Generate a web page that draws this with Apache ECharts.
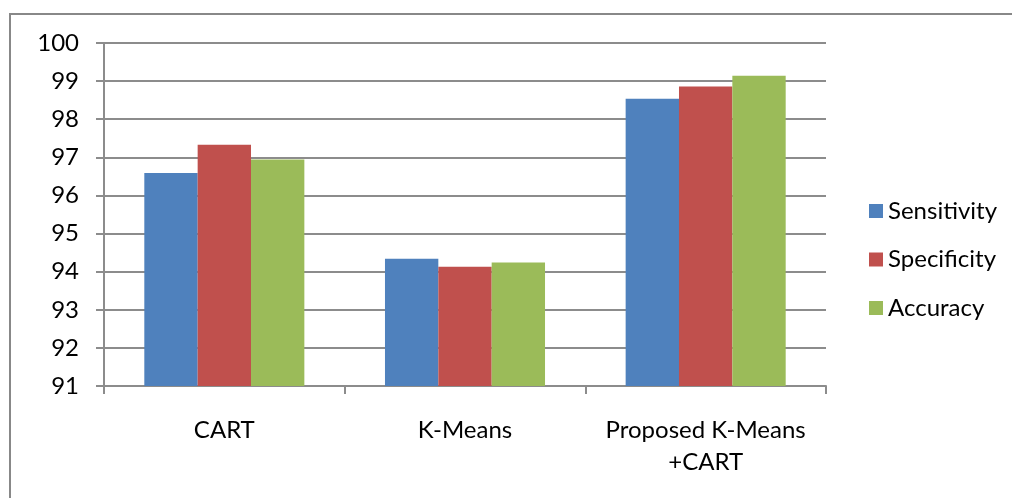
<!DOCTYPE html>
<html>
<head>
<meta charset="utf-8">
<script src="https://cdn.jsdelivr.net/npm/echarts@6/dist/echarts.min.js"></script>
<style>
  html, body { margin: 0; padding: 0; background: #fff; }
  #chart { width: 1012px; height: 498px; }
</style>
</head>
<body>
<div id="chart"></div>
<script>
// Methods compared
const categories = ['CART', 'K-Means', 'Proposed K-Means\n+CART'];

// Scores (%) per method
const sensitivity = [96.59, 94.34, 98.54];
const specificity = [97.33, 94.13, 98.86];
const accuracy = [96.94, 94.24, 99.14];

// Value axis range
const yMin = 91;
const yMax = 100;
const yStep = 1;

const FONT = 'Lato, "Liberation Sans", sans-serif';
const GRAY = '#8c8c8c';

const chart = echarts.init(document.getElementById('chart'), null, { renderer: 'canvas' });

const barSeries = (name, data, color) => ({
  name,
  type: 'bar',
  data,
  itemStyle: { color },
  barGap: '0%',
  barCategoryGap: '33.5%'
});

chart.setOption({
  animation: false,
  backgroundColor: '#ffffff',
  graphic: [{
    type: 'rect',
    shape: { x: 10, y: 14, width: 1100, height: 600 },
    style: { fill: 'none', stroke: '#888888', lineWidth: 2 },
    silent: true
  }],
  grid: { left: 104, right: 186, top: 43, bottom: 112, containLabel: false },
  legend: {
    orient: 'vertical',
    left: 864,
    top: 194,
    itemWidth: 14,
    itemHeight: 14,
    itemGap: 24.5,
    icon: 'rect',
    textStyle: { fontFamily: FONT, fontSize: 24, color: '#000' },
    data: ['Sensitivity', 'Specificity', 'Accuracy']
  },
  xAxis: {
    type: 'category',
    data: categories,
    axisLine: { show: true, lineStyle: { color: GRAY, width: 2 } },
    axisTick: { show: true, length: 8, alignWithLabel: false, lineStyle: { color: GRAY, width: 2 } },
    axisLabel: {
      interval: 0,
      margin: 28,
      fontFamily: FONT,
      fontSize: 24,
      lineHeight: 32,
      color: '#000'
    }
  },
  yAxis: {
    type: 'value',
    min: yMin,
    max: yMax,
    interval: yStep,
    axisLine: { show: true, lineStyle: { color: GRAY, width: 2 } },
    axisTick: { show: true, length: 8, lineStyle: { color: GRAY, width: 2 } },
    axisLabel: { margin: 25, fontFamily: FONT, fontSize: 24, color: '#000' },
    splitLine: { show: true, lineStyle: { color: GRAY, width: 2 } }
  },
  series: [
    barSeries('Sensitivity', sensitivity, '#4F81BD'),
    barSeries('Specificity', specificity, '#C0504D'),
    barSeries('Accuracy', accuracy, '#9BBB59')
  ]
});
</script>
</body>
</html>
